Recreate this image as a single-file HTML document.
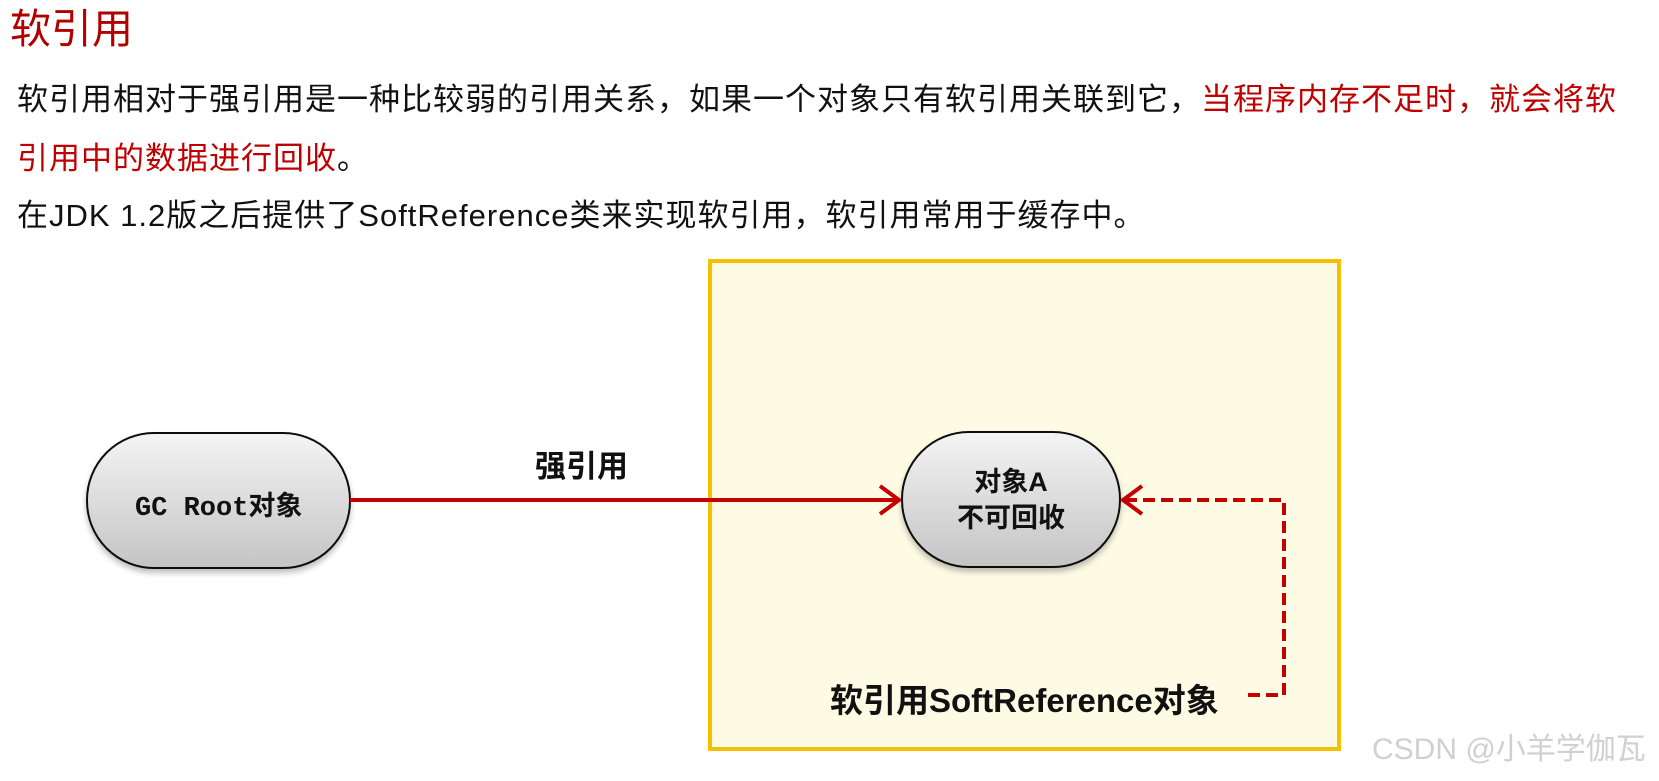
<!DOCTYPE html>
<html><head><meta charset="utf-8"><style>
html,body{margin:0;padding:0;width:1659px;height:781px;background:#fff;overflow:hidden;position:relative;font-family:"Liberation Sans","Noto Sans CJK SC",sans-serif;}
.t{position:absolute;white-space:nowrap;}
</style></head><body>
<div class="t" style="left:10px;top:4px;font-size:41px;line-height:50px;color:#b00000;">软引用</div>
<div class="t" style="left:17px;top:80px;font-size:31px;line-height:40px;letter-spacing:1px;color:#111;">软引用相对于强引用是一种比较弱的引用关系，如果一个对象只有软引用关联到它，<span style="color:#c00000">当程序内存不足时，就会将软</span></div>
<div class="t" style="left:17px;top:139px;font-size:31px;line-height:40px;letter-spacing:1px;color:#c00000;">引用中的数据进行回收<span style="color:#111">。</span></div>
<div class="t" style="left:17px;top:196px;font-size:31px;line-height:40px;letter-spacing:1px;color:#111;">在JDK 1.2版之后提供了SoftReference类来实现软引用，软引用常用于缓存中。</div>

<div style="position:absolute;left:708px;top:259px;width:625px;height:484px;border:4px solid #f6c000;background:#fefbe5;"></div>

<svg width="1659" height="781" style="position:absolute;left:0;top:0">
<defs>
<linearGradient id="g" x1="0" y1="0" x2="0" y2="1"><stop offset="0" stop-color="#f4f4f4"/><stop offset="1" stop-color="#c4c4c4"/></linearGradient>
<filter id="s"><feDropShadow dx="0" dy="4" stdDeviation="3" flood-opacity="0.25"/></filter>
</defs>
<rect x="87" y="433" width="263" height="135" rx="67" ry="67" fill="url(#g)" stroke="#111" stroke-width="2" filter="url(#s)"/>
<rect x="902" y="432" width="218" height="135" rx="67" ry="67" fill="url(#g)" stroke="#111" stroke-width="2" filter="url(#s)"/>
<line x1="350" y1="500" x2="898" y2="500" stroke="#c40000" stroke-width="4"/>
<polyline points="880,486 899,500 880,514" fill="none" stroke="#c40000" stroke-width="4"/>
<polyline points="1248,695 1284,695 1284,500 1126,500" fill="none" stroke="#c40000" stroke-width="4" stroke-dasharray="12,6"/>
<polyline points="1142,486 1123,500 1142,514" fill="none" stroke="#c40000" stroke-width="4"/>
</svg>

<div class="t" style="left:135px;top:488px;font-size:27px;line-height:36px;font-weight:bold;color:#111;"><span style="font-family:'Liberation Mono',monospace">GC Root</span>对象</div>
<div class="t" style="left:911px;top:464px;width:200px;text-align:center;font-size:27px;line-height:36px;font-weight:bold;color:#111;">对象A<br>不可回收</div>
<div class="t" style="left:535px;top:448px;font-size:31px;line-height:38px;font-weight:bold;color:#111;">强引用</div>
<div class="t" style="left:830px;top:680px;font-size:33px;line-height:42px;font-weight:bold;color:#111;">软引用SoftReference对象</div>
<div class="t" style="left:1372px;top:733px;font-size:30px;line-height:34px;color:#d0d0d0;">CSDN @小羊学伽瓦</div>
</body></html>
